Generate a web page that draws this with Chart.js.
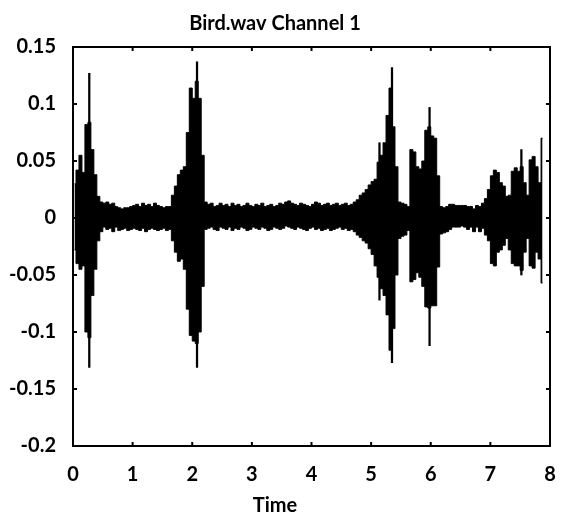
<!DOCTYPE html>
<html>
<head>
<meta charset="utf-8">
<script src="https://cdn.jsdelivr.net/npm/chart.js@4.4.0/dist/chart.umd.min.js"></script>
<style>
  html, body { margin: 0; padding: 0; background: #fff; }
  #wrap { width: 567px; height: 520px; }
</style>
</head>
<body>
<div id="wrap"><canvas id="waveChart" width="567" height="520"></canvas></div>
<script>
// envelope of the waveform, one bin every 0.05 s starting at 0.025 s
const binStart = 0.025;
const binStep = 0.05;

const envHigh = [
  0.030, 0.042, 0.055, 0.040, 0.082, 0.084, 0.060, 0.038, 0.019, 0.014,
  0.013, 0.014, 0.012, 0.013, 0.010, 0.009, 0.008, 0.009, 0.009, 0.010,
  0.011, 0.012, 0.010, 0.013, 0.011, 0.012, 0.010, 0.013, 0.011, 0.010,
  0.009, 0.010, 0.010,
  0.020, 0.028, 0.038, 0.042, 0.045, 0.075, 0.114, 0.105, 0.120, 0.105, 0.055,
  0.014, 0.012, 0.013, 0.010, 0.011, 0.013, 0.011, 0.012, 0.010, 0.013,
  0.011, 0.012, 0.010, 0.011, 0.013, 0.011, 0.010, 0.012, 0.011, 0.013,
  0.010, 0.011, 0.012, 0.010, 0.011, 0.013, 0.012, 0.014, 0.015, 0.013,
  0.012, 0.011, 0.013, 0.012, 0.011, 0.010, 0.012, 0.014, 0.013, 0.011,
  0.012, 0.013, 0.011, 0.012, 0.013, 0.011, 0.012, 0.013, 0.011, 0.012,
  0.014, 0.016,
  0.020, 0.022, 0.025, 0.029, 0.032, 0.034, 0.049, 0.055, 0.066, 0.090,
  0.114, 0.080, 0.045, 0.014, 0.013, 0.012, 0.010, 0.060, 0.058, 0.045,
  0.043, 0.050, 0.077, 0.080, 0.072, 0.070, 0.037, 0.010,
  0.009, 0.010, 0.012, 0.012, 0.011, 0.011, 0.011, 0.011, 0.010, 0.010,
  0.008, 0.011, 0.010, 0.013, 0.017, 0.025,
  0.037, 0.042, 0.040, 0.031, 0.028, 0.019, 0.020, 0.041, 0.044, 0.041,
  0.045, 0.031, 0.020, 0.051, 0.054, 0.045, 0.031, 0.070
];

const envLow = [
  -0.028, -0.040, -0.045, -0.042, -0.100, -0.105, -0.068, -0.045, -0.020, -0.012,
  -0.008, -0.010, -0.009, -0.012, -0.008, -0.011, -0.010, -0.009, -0.011, -0.010,
  -0.009, -0.010, -0.011, -0.009, -0.012, -0.010, -0.009, -0.010, -0.011, -0.010,
  -0.009, -0.011, -0.010,
  -0.020, -0.030, -0.038, -0.036, -0.045, -0.080, -0.103, -0.108, -0.110, -0.100, -0.060,
  -0.010, -0.009, -0.008, -0.010, -0.011, -0.008, -0.009, -0.010, -0.008, -0.011,
  -0.009, -0.010, -0.008, -0.009, -0.011, -0.010, -0.008, -0.009, -0.010, -0.008,
  -0.009, -0.011, -0.010, -0.008, -0.009, -0.010, -0.009, -0.007, -0.008, -0.009,
  -0.010, -0.008, -0.009, -0.010, -0.011, -0.009, -0.008, -0.010, -0.009, -0.011,
  -0.010, -0.009, -0.011, -0.010, -0.009, -0.008, -0.010, -0.009, -0.011, -0.010,
  -0.012, -0.015,
  -0.017, -0.020, -0.022, -0.027, -0.032, -0.042, -0.052, -0.062, -0.068, -0.085,
  -0.116, -0.097, -0.050, -0.018, -0.016, -0.015, -0.011, -0.056, -0.054, -0.048,
  -0.052, -0.060, -0.078, -0.079, -0.077, -0.077, -0.043, -0.014,
  -0.013, -0.012, -0.010, -0.008, -0.008, -0.008, -0.007, -0.008, -0.010, -0.008,
  -0.012, -0.008, -0.012, -0.009, -0.015, -0.020,
  -0.040, -0.042, -0.030, -0.028, -0.024, -0.018, -0.028, -0.040, -0.042, -0.042,
  -0.046, -0.030, -0.018, -0.042, -0.044, -0.030, -0.036, -0.057
];

// single-sample peaks that stick out of the envelope
const spikeTimes = [0.273, 2.08, 5.14, 5.35, 5.98, 7.52];
const spikeHigh = [0.127, 0.137, 0.066, 0.132, 0.097, 0.060];
const spikeLow = [-0.131, -0.131, -0.072, -0.127, -0.112, -0.050];

const xTicks = [0, 1, 2, 3, 4, 5, 6, 7, 8];
const yTicks = [0.15, 0.1, 0.05, 0, -0.05, -0.1, -0.15, -0.2];

const fontFamily = "Lato, 'Open Sans', sans-serif";

// box around the plot with short ticks pointing inward
const frameTicks = {
  id: "frameTicks",
  afterDatasetsDraw(chart) {
    const { ctx, chartArea: a, scales } = chart;
    const len = 4;
    ctx.save();
    ctx.strokeStyle = "#000";
    ctx.lineWidth = 2;
    ctx.strokeRect(a.left, a.top, a.right - a.left, a.bottom - a.top);
    ctx.beginPath();
    xTicks.forEach((v) => {
      const px = scales.x.getPixelForValue(v);
      ctx.moveTo(px, a.bottom);
      ctx.lineTo(px, a.bottom - len);
      ctx.moveTo(px, a.top);
      ctx.lineTo(px, a.top + len);
    });
    yTicks.forEach((v) => {
      const py = scales.y.getPixelForValue(v);
      ctx.moveTo(a.left, py);
      ctx.lineTo(a.left + len, py);
      ctx.moveTo(a.right, py);
      ctx.lineTo(a.right - len, py);
    });
    ctx.stroke();
    ctx.restore();
  },
};

const binTimes = envHigh.map((_, i) => binStart + i * binStep);

const ctx = document.getElementById("waveChart").getContext("2d");
new Chart(ctx, {
  type: "line",
  data: {
    datasets: [
      {
        label: "upper",
        data: envHigh.map((v, i) => ({ x: binTimes[i], y: v })),
        borderColor: "#000",
        backgroundColor: "#000",
        borderWidth: 1,
        pointRadius: 0,
        stepped: "middle",
        fill: "+1",
      },
      {
        label: "lower",
        data: envLow.map((v, i) => ({ x: binTimes[i], y: v })),
        borderColor: "#000",
        backgroundColor: "#000",
        borderWidth: 1,
        pointRadius: 0,
        stepped: "middle",
        fill: false,
      },
      {
        type: "bar",
        label: "peaks",
        data: spikeTimes.map((t, i) => ({ x: t, y: [spikeLow[i], spikeHigh[i]] })),
        backgroundColor: "#000",
        borderWidth: 0,
        barThickness: 1.6,
        grouped: false,
      },
    ],
  },
  options: {
    responsive: false,
    animation: false,
    layout: { padding: { left: 0, right: 17, top: 0, bottom: 0 } },
    plugins: {
      legend: { display: false },
      tooltip: { enabled: false },
      title: {
        display: true,
        text: "Bird.wav Channel 1",
        color: "#000",
        font: { family: fontFamily, size: 20, weight: "bold" },
        padding: { top: 12, bottom: 11 },
      },
      subtitle: {
        display: true,
        position: "bottom",
        text: "Time",
        color: "#000",
        font: { family: fontFamily, size: 20, weight: "bold" },
        padding: { top: 4, bottom: 2 },
      },
    },
    scales: {
      x: {
        type: "linear",
        min: 0,
        max: 8,
        offset: false,
        grid: { display: false },
        border: { display: false },
        afterBuildTicks: (scale) => {
          scale.ticks = xTicks.map((v) => ({ value: v }));
        },
        afterFit: (scale) => {
          scale.height = 44;
        },
        ticks: {
          color: "#000",
          padding: 9,
          autoSkip: false,
          maxRotation: 0,
          font: { family: fontFamily, size: 20, weight: "bold" },
          callback: (v) => String(v),
        },
      },
      y: {
        min: -0.2,
        max: 0.15,
        grid: { display: false },
        border: { display: false },
        afterBuildTicks: (scale) => {
          scale.ticks = yTicks.map((v) => ({ value: v }));
        },
        afterFit: (scale) => {
          scale.width = 73;
        },
        ticks: {
          color: "#000",
          padding: 9,
          autoSkip: false,
          font: { family: fontFamily, size: 20, weight: "bold" },
          callback: (v) => String(Math.round(v * 100) / 100),
        },
      },
    },
  },
  plugins: [frameTicks],
});
</script>
</body>
</html>
